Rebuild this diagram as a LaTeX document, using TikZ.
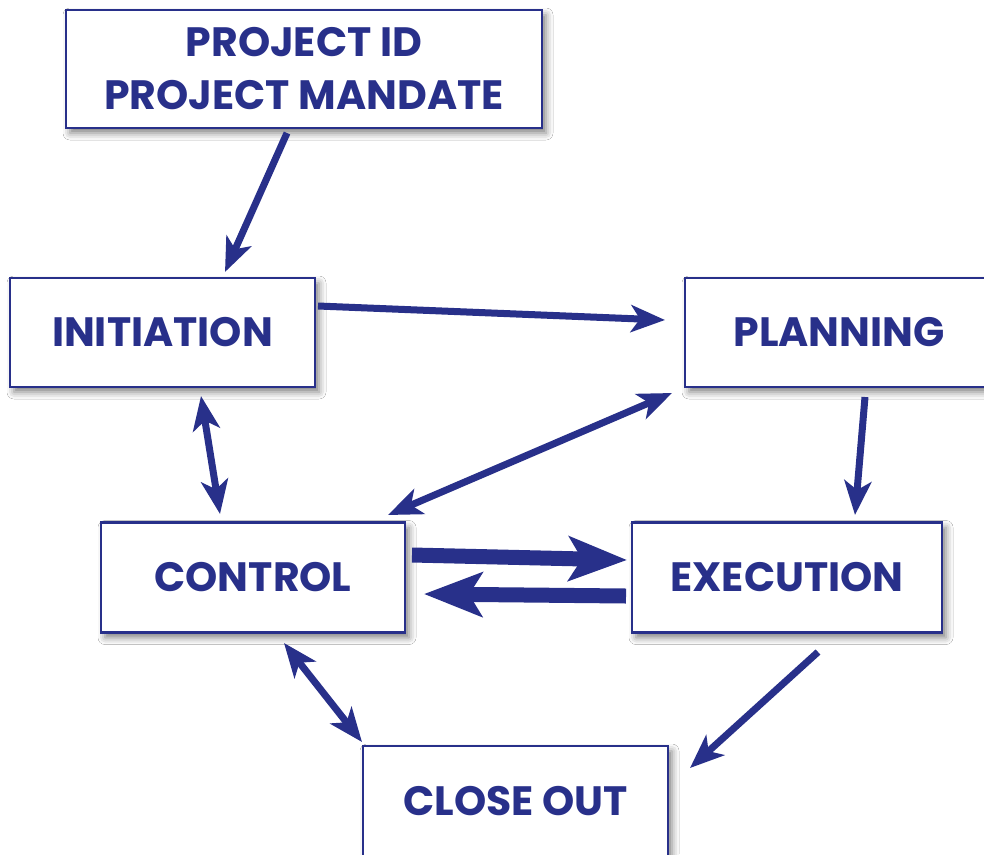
\documentclass[tikz,border=0pt]{standalone}
\usepackage{fontspec}
\setmainfont{Poppins}
\usetikzlibrary{arrows.meta,calc,shadows.blur}
\definecolor{navy}{RGB}{40,48,138}
\tikzset{
  stage/.style={draw=navy, line width=2.5pt, fill=white, inner sep=0pt,
    text=navy, font=\fontsize{41}{53}\selectfont\bfseries, align=center,
    blur shadow={shadow xshift=4pt, shadow yshift=-5pt,
      shadow blur radius=7pt, shadow opacity=50}},
  flow/.style={draw=navy, line width=7pt,
    -{Stealth[length=34pt, width=27pt, inset=9pt]}},
  twoway/.style={flow, {Stealth[length=34pt, width=27pt, inset=9pt]}-{Stealth[length=34pt, width=27pt, inset=9pt]}},
  heavy/.style={draw=navy, line width=15pt,
    -{Stealth[length=58pt, width=44pt, inset=13pt]}}
}
\begin{document}
\begin{tikzpicture}[x=1pt, y=-1pt]
  \useasboundingbox (0,0) rectangle (984,854);
  \clip (0,0) rectangle (984,854);
  \fill[white] (0,0) rectangle (984,854);

  % stage boxes
  \node[stage, minimum width=476pt, minimum height=118pt] (mandate) at (304,69)
    {PROJECT ID\\PROJECT MANDATE};
  \node[stage, minimum width=305pt, minimum height=109pt] (init) at (162.5,332.5) {INITIATION};
  \node[stage, minimum width=306pt, minimum height=109pt] (plan) at (838,332.5) {\hspace*{2pt}PLANNING};
  \node[stage, minimum width=304pt, minimum height=110pt] (ctrl) at (253,577.5) {CONTROL};
  \node[stage, minimum width=310pt, minimum height=110pt] (exec) at (787,577.5) {EXECUTION};
  \node[stage, minimum width=305pt, minimum height=110pt] (close) at (515.5,801) {CLOSE OUT};

  % connectors
  \draw[flow]   ($(mandate)+(-17,64)$) -- ($(init)+(62.5,-60.5)$);
  \draw[flow]   ($(init)+(155.5,-26.5)$) -- ($(plan)+(-173,-12.5)$);
  \draw[twoway] ($(plan)+(-166,60.5)$) -- ($(ctrl)+(135,-62.5)$);
  \draw[twoway] ($(init)+(38.5,63.5)$) -- ($(ctrl)+(-33,-63.5)$);
  \draw[flow]   ($(plan)+(27,64.5)$) -- ($(exec)+(68,-62.5)$);
  \draw[heavy]  ($(ctrl)+(159,-22.5)$) -- ($(exec)+(-160,-17.5)$);
  \draw[heavy]  ($(exec)+(-161,18.5)$) -- ($(ctrl)+(171,16.5)$);
  \draw[twoway] ($(ctrl)+(31,65.5)$) -- ($(close)+(-153.5,-59)$);
  \draw[flow]   ($(exec)+(31,74.5)$) -- ($(close)+(174.5,-33)$);
\end{tikzpicture}
\end{document}
